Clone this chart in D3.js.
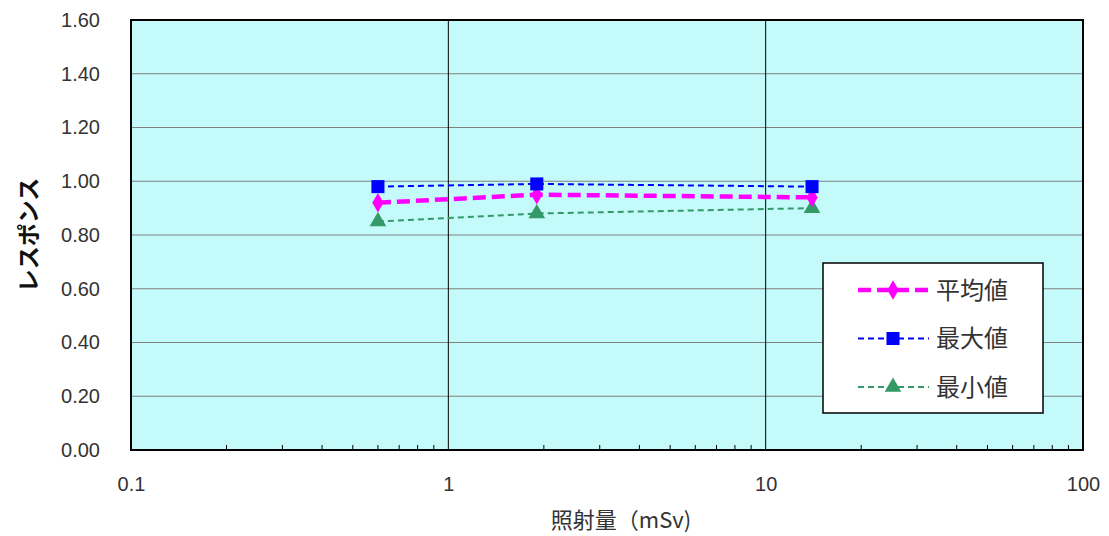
<!DOCTYPE html>
<html>
<head>
<meta charset="utf-8">
<script src="https://cdn.jsdelivr.net/npm/d3@7"></script>
<style>
  body { margin: 0; background: #fff; }
  svg { display: block; font-family: "Noto Sans CJK JP", "Noto Sans", sans-serif; }
</style>
</head>
<body>
<svg id="chart" width="1109" height="536"></svg>
<script>
// データ
const doses = [0.6, 1.9, 14];            // 照射量 (mSv)
const meanValues = [0.92, 0.95, 0.94];   // 平均値
const maxValues = [0.98, 0.99, 0.98];    // 最大値
const minValues = [0.85, 0.88, 0.90];    // 最小値
const seriesNames = ['平均値', '最大値', '最小値'];
const yTicks = [0, 0.2, 0.4, 0.6, 0.8, 1.0, 1.2, 1.4, 1.6];
const xTicks = [0.1, 1, 10, 100];

const width = 1109, height = 536;
const margin = { top: 20, right: 26, bottom: 86, left: 131 };
const plotW = width - margin.left - margin.right;
const plotH = height - margin.top - margin.bottom;

const svg = d3.select('#chart');
const g = svg.append('g').attr('transform', `translate(${margin.left},${margin.top})`);

const x = d3.scaleLog().domain([0.1, 100]).range([0, plotW]);
const y = d3.scaleLinear().domain([0, 1.6]).range([plotH, 0]);

// 背景
g.append('rect').attr('width', plotW).attr('height', plotH).attr('fill', '#c4fafa');

// 横グリッド
g.selectAll('.hgrid').data(yTicks.slice(1, -1)).join('line')
  .attr('x1', 0).attr('x2', plotW)
  .attr('y1', d => y(d)).attr('y2', d => y(d))
  .attr('stroke', '#808080').attr('stroke-width', 1.2);

// 縦グリッド
g.selectAll('.vgrid').data(xTicks.slice(1, -1)).join('line')
  .attr('x1', d => x(d)).attr('x2', d => x(d))
  .attr('y1', 0).attr('y2', plotH)
  .attr('stroke', '#000').attr('stroke-width', 1);

// 副目盛り (内向き)
const minor = [];
[0.1, 1, 10].forEach(b => { for (let k = 2; k <= 9; k++) minor.push(b * k); });
g.selectAll('.minor').data(minor).join('line')
  .attr('x1', d => x(d)).attr('x2', d => x(d))
  .attr('y1', plotH).attr('y2', plotH - 5)
  .attr('stroke', '#000').attr('stroke-width', 1);

// 枠
g.append('rect').attr('width', plotW).attr('height', plotH)
  .attr('fill', 'none').attr('stroke', '#000').attr('stroke-width', 2);

// Y軸ラベル
const yAxis = d3.axisLeft(y).tickValues(yTicks).tickFormat(d3.format('.2f')).tickSize(0).tickPadding(31);
const ya = g.append('g').call(yAxis);
ya.select('.domain').remove();
ya.selectAll('text').attr('fill', '#333')
  .attr('font-family', '"Liberation Sans", sans-serif').style('font-size', '20px');

// X軸ラベル
const xAxis = d3.axisBottom(x).tickValues(xTicks).tickFormat(d => String(d)).tickSize(0).tickPadding(27);
const xa = g.append('g').attr('transform', `translate(0,${plotH})`).call(xAxis);
xa.select('.domain').remove();
xa.selectAll('text').attr('fill', '#333')
  .attr('font-family', '"Liberation Sans", sans-serif').style('font-size', '20px');

// 軸タイトル
svg.append('text')
  .attr('transform', `translate(37,${margin.top + plotH / 2}) rotate(-90)`)
  .attr('text-anchor', 'middle')
  .attr('font-size', 23).attr('font-weight', 'bold').attr('fill', '#111')
  .text('レスポンス');
svg.append('text')
  .attr('x', 621).attr('y', 528)
  .attr('text-anchor', 'middle')
  .attr('font-size', 22).attr('fill', '#333')
  .text('照射量（mSv)');

// 系列
const series = [
  { name: seriesNames[0], values: meanValues, color: '#ff00ff', width: 4.5, dash: '13,6', shape: d3.symbolDiamond, size: 110 },
  { name: seriesNames[1], values: maxValues, color: '#0000ff', width: 2, dash: '6,4', shape: d3.symbolSquare, size: 170 },
  { name: seriesNames[2], values: minValues, color: '#339966', width: 2, dash: '6,4', shape: d3.symbolTriangle, size: 120 }
];

const line = d3.line().x(d => x(d[0])).y(d => y(d[1]));

// 描画順: 最小値, 平均値, 最大値
[series[2], series[0], series[1]].forEach(s => {
  const pts = doses.map((d, i) => [d, s.values[i]]);
  g.append('path').datum(pts)
    .attr('fill', 'none').attr('stroke', s.color)
    .attr('stroke-width', s.width).attr('stroke-dasharray', s.dash)
    .attr('d', line);
  g.selectAll(null).data(pts).join('path')
    .attr('transform', d => `translate(${x(d[0])},${y(d[1])})`)
    .attr('d', d3.symbol().type(s.shape).size(s.size))
    .attr('fill', s.color);
});

// 凡例
const lg = svg.append('g').attr('transform', 'translate(823,263)');
lg.append('rect').attr('width', 220).attr('height', 150)
  .attr('fill', '#fff').attr('stroke', '#000').attr('stroke-width', 1.5);
series.forEach((s, i) => {
  const cy = 27 + i * 48.5;
  lg.append('line').attr('x1', 35).attr('x2', 106).attr('y1', cy).attr('y2', cy)
    .attr('stroke', s.color).attr('stroke-width', s.width).attr('stroke-dasharray', s.dash);
  lg.append('path').attr('transform', `translate(70,${cy})`)
    .attr('d', d3.symbol().type(s.shape).size(s.size)).attr('fill', s.color);
  lg.append('text').attr('x', 113).attr('y', cy).attr('dy', '0.36em')
    .attr('font-size', 24).attr('fill', '#333').text(s.name);
});
</script>
</body>
</html>
